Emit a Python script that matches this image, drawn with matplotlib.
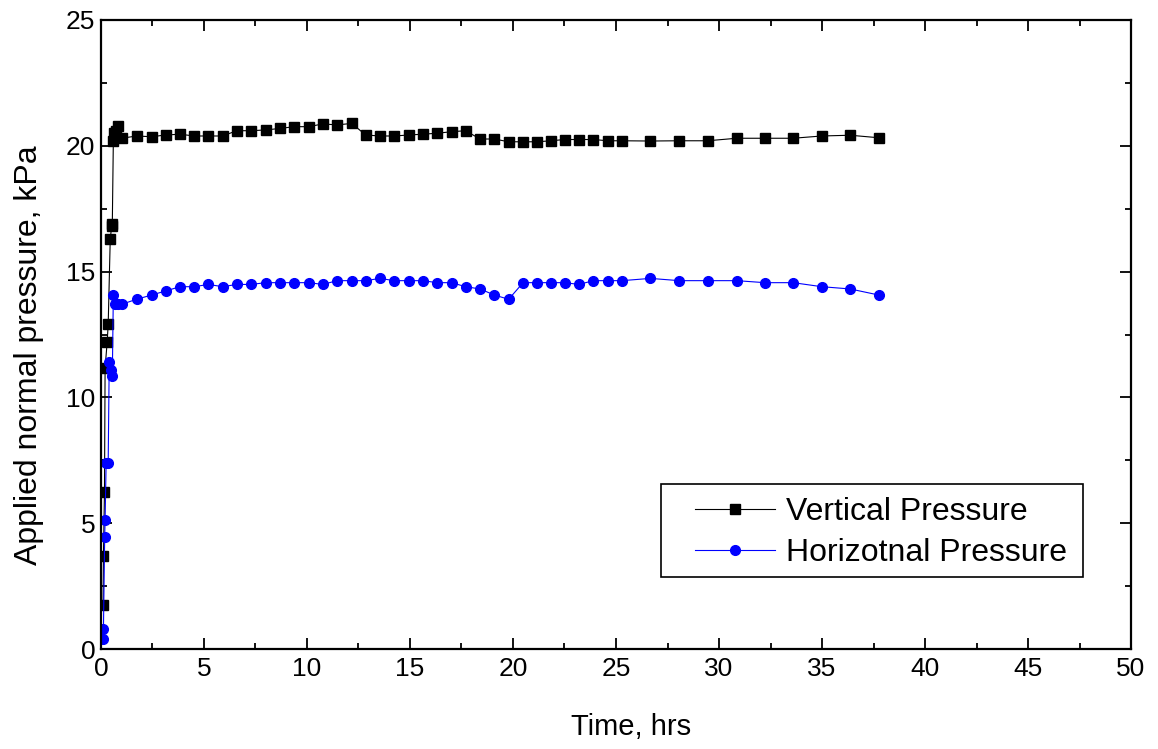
import matplotlib
matplotlib.use("Agg")
import matplotlib.pyplot as plt
from matplotlib.patches import Rectangle
from matplotlib.ticker import MultipleLocator

plt.rcParams['font.family'] = ['Liberation Sans', 'DejaVu Sans']

# Vertical pressure (kPa) vs time (hrs)
t_vert = [0.1, 0.12, 0.17, 0.2, 0.3, 0.35, 0.45, 0.52, 0.55, 0.6, 0.65, 0.75, 0.85, 1.0,
          1.73, 2.46, 3.14, 3.83, 4.53, 5.21, 5.91, 6.59, 7.28, 8.0,
          8.69, 9.38, 10.1, 10.76, 11.47, 12.17, 12.85, 13.54, 14.24, 14.95,
          15.61, 16.33, 17.02, 17.7, 18.4, 19.09, 19.79, 20.49, 21.18, 21.84,
          22.52, 23.2, 23.9, 24.6, 25.29, 26.67, 28.07, 29.45, 30.86, 32.23,
          33.6, 34.99, 36.37, 37.75]
p_vert = [1.75, 3.7, 6.25, 11.17, 12.2, 12.9, 16.3, 16.8, 16.9, 20.2, 20.5, 20.6, 20.8, 20.3,
          20.39, 20.36, 20.43, 20.46, 20.39, 20.39, 20.39, 20.6, 20.6, 20.63,
          20.69, 20.76, 20.76, 20.87, 20.83, 20.89, 20.43, 20.39, 20.39, 20.43,
          20.46, 20.5, 20.56, 20.6, 20.27, 20.27, 20.16, 20.16, 20.16, 20.2,
          20.25, 20.25, 20.25, 20.2, 20.2, 20.19, 20.2, 20.2, 20.3, 20.3,
          20.3, 20.39, 20.42, 20.32]

# Horizontal pressure (kPa) vs time (hrs)
t_horiz = [0.1, 0.12, 0.18, 0.2, 0.25, 0.35, 0.4, 0.5, 0.55, 0.6, 0.7, 0.85, 1.0,
           1.73, 2.46, 3.14, 3.83, 4.53, 5.21, 5.91, 6.59, 7.28, 8.0,
           8.69, 9.38, 10.1, 10.76, 11.47, 12.17, 12.85, 13.54, 14.24, 14.95,
           15.61, 16.33, 17.02, 17.7, 18.4, 19.09, 19.79, 20.49, 21.18, 21.84,
           22.52, 23.2, 23.9, 24.6, 25.29, 26.67, 28.07, 29.45, 30.86, 32.23,
           33.6, 34.99, 36.37, 37.75]
p_horiz = [0.4, 0.8, 4.46, 5.13, 7.4, 7.4, 11.4, 11.1, 10.85, 14.07, 13.7, 13.7, 13.7,
           13.9, 14.07, 14.23, 14.4, 14.4, 14.49, 14.4, 14.49, 14.49, 14.56,
           14.56, 14.56, 14.56, 14.49, 14.64, 14.64, 14.64, 14.73, 14.64, 14.64,
           14.64, 14.56, 14.56, 14.4, 14.31, 14.07, 13.9, 14.56, 14.56, 14.56,
           14.56, 14.49, 14.64, 14.64, 14.64, 14.73, 14.64, 14.64, 14.64, 14.56,
           14.56, 14.4, 14.31, 14.07]

fig = plt.figure(figsize=(11.58, 7.49), dpi=100)
ax = fig.add_axes([0.0872, 0.1335, 0.8895, 0.8398])

ax.plot(t_vert, p_vert, color='black', lw=0.8, marker='s', ms=6.5,
        label='Vertical Pressure')
ax.plot(t_horiz, p_horiz, color='blue', lw=0.8, marker='o', ms=7,
        label='Horizotnal Pressure')

ax.set_xlim(0, 50)
ax.set_ylim(0, 25)
ax.xaxis.set_major_locator(MultipleLocator(5))
ax.xaxis.set_minor_locator(MultipleLocator(2.5))
ax.yaxis.set_major_locator(MultipleLocator(5))
ax.yaxis.set_minor_locator(MultipleLocator(2.5))
ax.tick_params(which='both', direction='in', top=True, right=True, width=1.3,
               labelsize=19)
ax.tick_params(which='major', length=8)
ax.tick_params(which='minor', length=4.5)
ax.tick_params(axis='x', which='major', pad=6)
ax.tick_params(axis='y', which='major', pad=4)
for s in ax.spines.values():
    s.set_linewidth(1.6)

ax.set_xlabel('Time, hrs', fontsize=21)
ax.xaxis.set_label_coords(0.515, -0.102)
ax.set_ylabel('Applied normal pressure, kPa', fontsize=23)
ax.yaxis.set_label_coords(-0.055, 0.467)

# legend without its own frame, boxed by a plain rectangle (wider left margin)
leg = ax.legend(loc='upper left', bbox_to_anchor=(0.5767, 0.241), fontsize=23,
                frameon=False, handlelength=2.5, borderpad=0, labelspacing=0.34,
                handletextpad=0.35, borderaxespad=0)
ax.add_patch(Rectangle((0.5437, 0.1145), 0.4097, 0.1478, transform=ax.transAxes,
                       fill=False, edgecolor='black', lw=1.2, zorder=5))

plt.savefig('out.png', dpi=100)
